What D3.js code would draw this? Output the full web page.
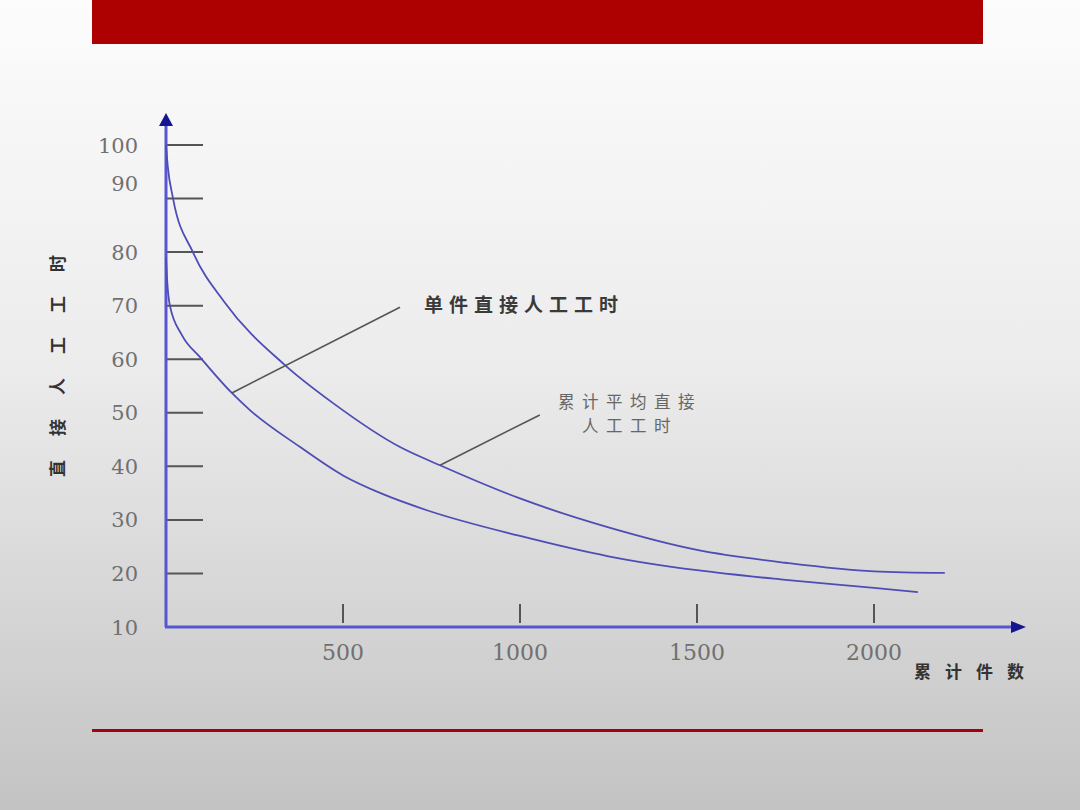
<!DOCTYPE html>
<html>
<head>
<meta charset="utf-8">
<script src="https://cdn.jsdelivr.net/npm/d3@7"></script>
<style>
  body { margin: 0; }
  svg { display: block; }
</style>
</head>
<body>
<script>
// 画布大小
const width = 1080;
const height = 810;

// 刻度
const yTicks = [10, 20, 30, 40, 50, 60, 70, 80, 90, 100];
const xTicks = [500, 1000, 1500, 2000];

// 累计平均直接人工工时（上面那条）
const avgUnits = [0, 5, 20, 76, 167, 336, 472, 661, 774, 1000, 1250, 1500, 1750, 2000, 2200];
const avgHours = [100, 96, 90, 80, 70.5, 58.9, 51.8, 43.6, 40.2, 34.0, 28.6, 24.4, 22.0, 20.4, 20.1];

// 单件直接人工工时（下面那条）
const unitUnits = [0, 4, 11, 45, 96, 186, 237, 379, 500, 613, 737, 1000, 1250, 1500, 1750, 2000, 2124];
const unitHours = [79, 74, 70, 64.5, 60.4, 53.7, 50.5, 43.6, 38.3, 34.8, 31.8, 27.0, 23.2, 20.6, 18.8, 17.3, 16.5];

// 标注文字
const unitLabel = "单件直接人工工时";
const avgLabel = ["累计平均直接", "人工工时"];
const yTitle = "直接人工工时";
const xTitle = "累计件数";

const svg = d3.select("body").append("svg")
  .attr("width", width)
  .attr("height", height);

// 背景渐变
const defs = svg.append("defs");
const grad = defs.append("linearGradient")
  .attr("id", "bg").attr("x1", 0).attr("y1", 0).attr("x2", 0).attr("y2", 1);
grad.append("stop").attr("offset", "0%").attr("stop-color", "#fcfcfc");
grad.append("stop").attr("offset", "45%").attr("stop-color", "#ececec");
grad.append("stop").attr("offset", "100%").attr("stop-color", "#c3c3c3");

svg.append("rect").attr("width", width).attr("height", height).attr("fill", "url(#bg)");

// 顶部红条和底部红线
svg.append("rect").attr("x", 92).attr("y", 0).attr("width", 891).attr("height", 44).attr("fill", "#ad0000");
svg.append("rect").attr("x", 92).attr("y", 729).attr("width", 891).attr("height", 3).attr("fill", "#a8000e");

// 比例尺
const x = d3.scaleLinear().domain([0, 2000]).range([166, 874]);
const y = d3.scaleLinear().domain([10, 100]).range([627, 145]);

const axisColor = "#5656d2";
const arrowColor = "#15158f";
const tickFont = "'DejaVu Serif', 'Liberation Serif', serif";

// y 轴刻度线
svg.append("g").selectAll("line")
  .data(yTicks.filter(d => d > 10))
  .join("line")
  .attr("x1", x(0)).attr("x2", x(0) + 37)
  .attr("y1", d => y(d)).attr("y2", d => y(d))
  .attr("stroke", "#555").attr("stroke-width", 2);

// y 轴刻度文字（90 在原图里偏上）
svg.append("g").selectAll("text")
  .data(yTicks)
  .join("text")
  .attr("x", 138)
  .attr("y", d => y(d) + (d === 90 ? -15 : 0))
  .attr("dy", "0.36em")
  .attr("text-anchor", "end")
  .attr("font-family", tickFont)
  .attr("font-size", 21)
  .attr("fill", "#707070")
  .text(d => d);

// x 轴刻度线和文字
svg.append("g").selectAll("line")
  .data(xTicks)
  .join("line")
  .attr("x1", d => x(d)).attr("x2", d => x(d))
  .attr("y1", y(10) - 23).attr("y2", y(10) - 4)
  .attr("stroke", "#555").attr("stroke-width", 2);

svg.append("g").selectAll("text")
  .data(xTicks)
  .join("text")
  .attr("x", d => x(d))
  .attr("y", 660)
  .attr("text-anchor", "middle")
  .attr("font-family", tickFont)
  .attr("font-size", 22)
  .attr("fill", "#707070")
  .text(d => d);

// 坐标轴和箭头
svg.append("line")
  .attr("x1", x(0)).attr("x2", x(0))
  .attr("y1", y(10)).attr("y2", 124)
  .attr("stroke", axisColor).attr("stroke-width", 3);
svg.append("path")
  .attr("d", `M${x(0)},113 L${x(0) - 7},126 L${x(0) + 7},126 Z`)
  .attr("fill", arrowColor);

svg.append("line")
  .attr("x1", x(0) - 1).attr("x2", 1012)
  .attr("y1", y(10)).attr("y2", y(10))
  .attr("stroke", axisColor).attr("stroke-width", 3);
svg.append("path")
  .attr("d", `M1026,${y(10)} L1011,${y(10) - 6} L1011,${y(10) + 6} Z`)
  .attr("fill", arrowColor);

// 曲线
const line = d3.line()
  .x(d => x(d[0]))
  .y(d => y(d[1]))
  .curve(d3.curveMonotoneX);

const curves = [
  d3.zip(avgUnits, avgHours),
  d3.zip(unitUnits, unitHours)
];

svg.append("g").selectAll("path")
  .data(curves)
  .join("path")
  .attr("d", line)
  .attr("fill", "none")
  .attr("stroke", "#4d4db5")
  .attr("stroke-width", 1.8);

// 标注引线
const leaders = [
  [[661, 69.7], [186, 53.7]],
  [[1056, 49.6], [774, 40.2]]
];
svg.append("g").selectAll("line")
  .data(leaders)
  .join("line")
  .attr("x1", d => x(d[0][0])).attr("y1", d => y(d[0][1]))
  .attr("x2", d => x(d[1][0])).attr("y2", d => y(d[1][1]))
  .attr("stroke", "#555").attr("stroke-width", 1.6);

// 标注文字
svg.append("text")
  .attr("x", 424).attr("y", 312)
  .attr("font-family", "'Noto Sans CJK SC', sans-serif")
  .attr("font-size", 19)
  .attr("font-weight", "bold")
  .attr("letter-spacing", 6)
  .attr("fill", "#3a3a3a")
  .text(unitLabel);

svg.append("g").selectAll("text")
  .data(avgLabel)
  .join("text")
  .attr("x", 630)
  .attr("y", (d, i) => 408 + i * 24)
  .attr("text-anchor", "middle")
  .attr("font-family", "'Noto Sans CJK SC', sans-serif")
  .attr("font-size", 16.5)
  .attr("letter-spacing", 7.5)
  .attr("fill", "#666")
  .text(d => d);

// 轴标题
svg.append("text")
  .attr("transform", "translate(64,354) rotate(-90)")
  .attr("text-anchor", "middle")
  .attr("font-family", "'Noto Sans CJK SC', sans-serif")
  .attr("font-size", 17)
  .attr("font-weight", "bold")
  .attr("letter-spacing", 24)
  .attr("fill", "#333")
  .text(yTitle);

svg.append("text")
  .attr("x", 914).attr("y", 678)
  .attr("font-family", "'Noto Sans CJK SC', sans-serif")
  .attr("font-size", 17)
  .attr("font-weight", "bold")
  .attr("letter-spacing", 14)
  .attr("fill", "#333")
  .text(xTitle);
</script>
</body>
</html>
